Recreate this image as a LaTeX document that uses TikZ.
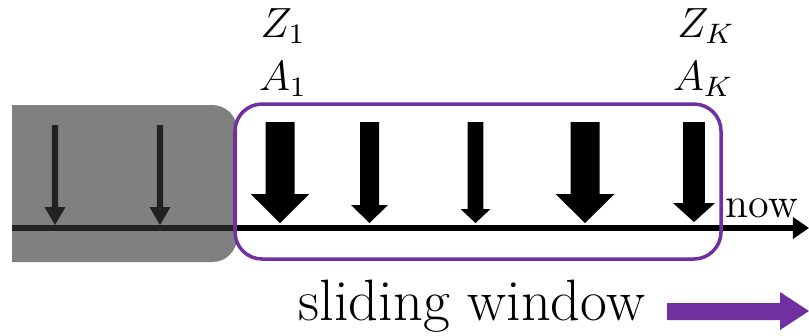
\documentclass[tikz,border=0pt]{standalone}
\usetikzlibrary{arrows.meta}
\definecolor{winpurple}{HTML}{7030A0}
\begin{document}
\begin{tikzpicture}[x=0.01cm,y=-0.01cm,line join=miter,
  eventarrow/.style={fill=black},
  pastbox/.style={fill=black!79,fill opacity=0.63,rounded corners=7pt},
  windowbox/.style={draw=winpurple,line width=1pt,rounded corners=7.7pt},
  timeline/.style={line width=1.7pt,-{Triangle[length=4.6pt,width=6pt]}},
  lbl/.style={inner sep=0pt,font=\fontsize{12}{14}\selectfont}]
  \useasboundingbox (0,0) rectangle (809,335);
  \coordinate (tstart) at (12,228);
  \coordinate (tend) at (809,228);
  \draw[timeline] (tstart) -- (tend);
  % events: centre / shaft half / head half / head top / shaft top / tip
  \foreach \xc/\sw/\hw/\hy/\ty/\tip in {55/3.2/10.5/207/125/225,160/3.2/10.5/207/125/225,
      280/14.5/29.3/194/122/223,369.5/9.5/18.5/205/122/223,475.5/7.8/15/209/122/223,
      585/14.5/29.5/194/122/223,694/10.8/21/203/122/222}
    \fill[eventarrow] ({\xc-\sw},\ty) -- ({\xc+\sw},\ty) -- ({\xc+\sw},\hy) -- ({\xc+\hw},\hy)
      -- (\xc,\tip) -- ({\xc-\hw},\hy) -- ({\xc-\sw},\hy) -- cycle;
  % the past, shaded
  \begin{scope}
    \clip (12,90) rectangle (260,280);
    \fill[pastbox] (-30,105) rectangle (237,262);
  \end{scope}
  \draw[windowbox] (235,104) rectangle (721,259);
  \node[lbl,anchor=base] (z1) at (283,37) {$Z_1$};
  \node[lbl,anchor=base] (a1) at (283,90) {$A_1$};
  \node[lbl,anchor=base] (zk) at (706,37) {$Z_K$};
  \node[lbl,anchor=base] (ak) at (703,90) {$A_K$};
  \node[lbl,anchor=base west] (now) at (725,217) {now};
  \node[inner sep=0pt,anchor=base west,font=\fontsize{16.6}{19}\selectfont] (slide) at (298,320) {sliding window};
  \fill[winpurple] (667,303) -- (780,303) -- (780,292) -- (809,311) -- (780,330) -- (780,320) -- (667,320) -- cycle;
\end{tikzpicture}
\end{document}
